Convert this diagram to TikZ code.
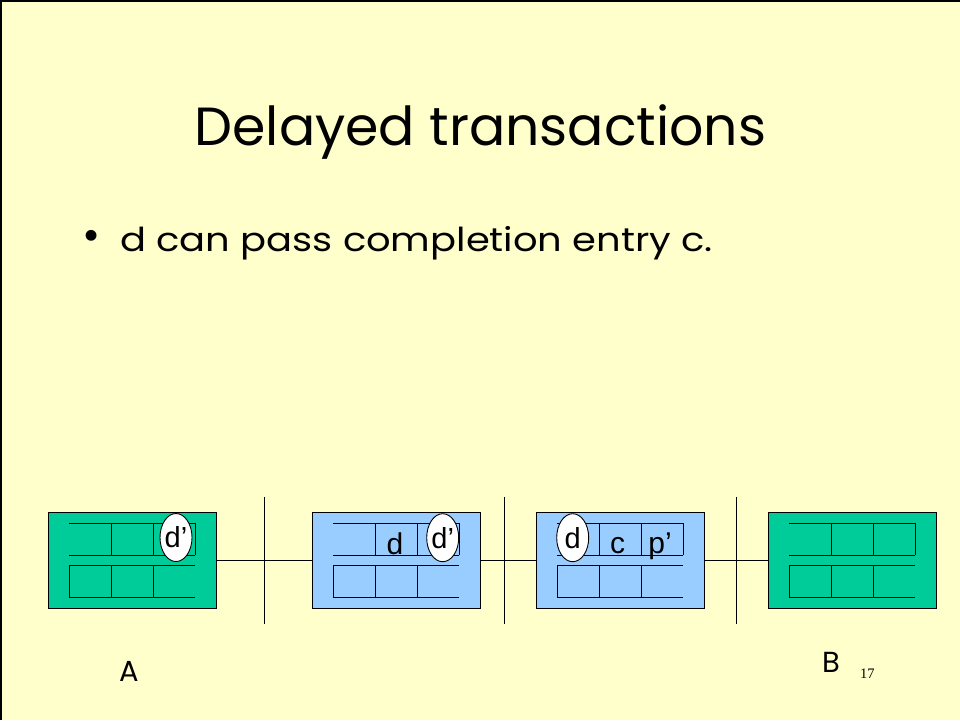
\documentclass[tikz,border=0pt]{standalone}
\usepackage{fontspec}
\setmainfont{Poppins}
\newfontfamily\lblfont{Liberation Sans}
\newfontfamily\numfont{Liberation Serif}
\usetikzlibrary{shapes.geometric}
\definecolor{bgyel}{HTML}{FFFFCC}
\definecolor{qgreen}{HTML}{00CC99}
\definecolor{qblue}{HTML}{99CCFF}
\tikzset{
  qbox/.style={draw=black, line width=0.9pt, minimum width=168.4pt, minimum height=96pt, inner sep=0pt},
  gbox/.style={qbox, fill=qgreen},
  bbox/.style={qbox, fill=qblue},
  grid/.style={draw=black, line width=0.9pt},
  link/.style={draw=black, line width=0.9pt},
  oval/.style={ellipse, draw=black, fill=white, line width=0.9pt, minimum width=32pt, minimum height=48pt, inner sep=0pt, font=\lblfont\fontsize{29}{29}\selectfont},
  lbl/.style={anchor=base, inner sep=0pt, font=\lblfont\fontsize{30}{30}\selectfont},
}
\newcommand{\qgrid}[1]{%
  \draw[grid] (#1,523.3) -- ++(126,0) (#1,555.3) -- ++(126,0)
    (#1+42,523.3) -- (#1+42,555.3) (#1+84,523.3) -- (#1+84,555.3) (#1+126,523.3) -- (#1+126,555.3);
  \draw[grid] (#1,565.3) -- ++(126,0) (#1,597.3) -- ++(126,0)
    (#1,565.3) -- (#1,597.3) (#1+42,565.3) -- (#1+42,597.3) (#1+84,565.3) -- (#1+84,597.3);
}
\begin{document}
\begin{tikzpicture}[x=1pt,y=-1pt]
\fill[bgyel] (0,0) rectangle (960,720);
\useasboundingbox (0,0) rectangle (960,720);
\draw[black, line width=1.5pt] (0.75,720) -- (0.75,0.75) -- (960,0.75);

% title and bullet
\node[anchor=base, inner sep=0pt, font=\fontsize{53.7}{54}\selectfont] (title) at (480.5,145) {Delayed transactions};
\node[anchor=center, inner sep=0pt, font=\fontsize{44}{44}\selectfont] (bul) at (92,240) {•};
\node[anchor=base west, inner sep=0pt, font=\fontsize{33}{33}\selectfont] (line1) at (120,251.7) {\scalebox{1.165}[1]{d can pass completion entry c.}};

% vertical separators
\coordinate (v1t) at (264.3,496.7); \coordinate (v1b) at (264.3,624.3);
\coordinate (v2t) at (504,496.7);   \coordinate (v2b) at (504,624.3);
\coordinate (v3t) at (736.7,496.7); \coordinate (v3b) at (736.7,624.3);
\draw[link] (v1t) -- (v1b);
\draw[link] (v2t) -- (v2b);
\draw[link] (v3t) -- (v3b);

% boxes
\node[gbox] (b1) at (132.5,560.3) {};
\node[bbox] (b2) at (396.5,560.3) {};
\node[bbox] (b3) at (620.2,560.3) {};
\node[gbox] (b4) at (852.5,560.3) {};
\draw[link] (b1.east) -- (b2.west);
\draw[link] (b2.east) -- (b3.west);
\draw[link] (b3.east) -- (b4.west);

\qgrid{69.3}
\qgrid{333.3}
\qgrid{557.3}
\qgrid{789.3}

% labels in queues
\node[lbl] (ld) at (395,554) {d};
\node[lbl] (lc) at (617.5,553.3) {c};
\node[lbl] (lp) at (660,553.3) {p’};

% ovals
\node[oval] (o1) at (176,537.5) {d’};
\node[oval] (o2) at (442.7,537.7) {d’};
\node[oval] (o3) at (572.7,537.7) {d};

% endpoint labels
\node[anchor=center, inner sep=0pt, font=\fontsize{29}{29}\selectfont] (la) at (129,671.5) {A};
\node[anchor=center, inner sep=0pt, font=\fontsize{29}{29}\selectfont] (lb) at (831,662) {B};
\node[anchor=base west, inner sep=0pt, font=\numfont\fontsize{14.5}{14.5}\selectfont] (pg) at (860,678.3) {17};
\end{tikzpicture}
\end{document}
